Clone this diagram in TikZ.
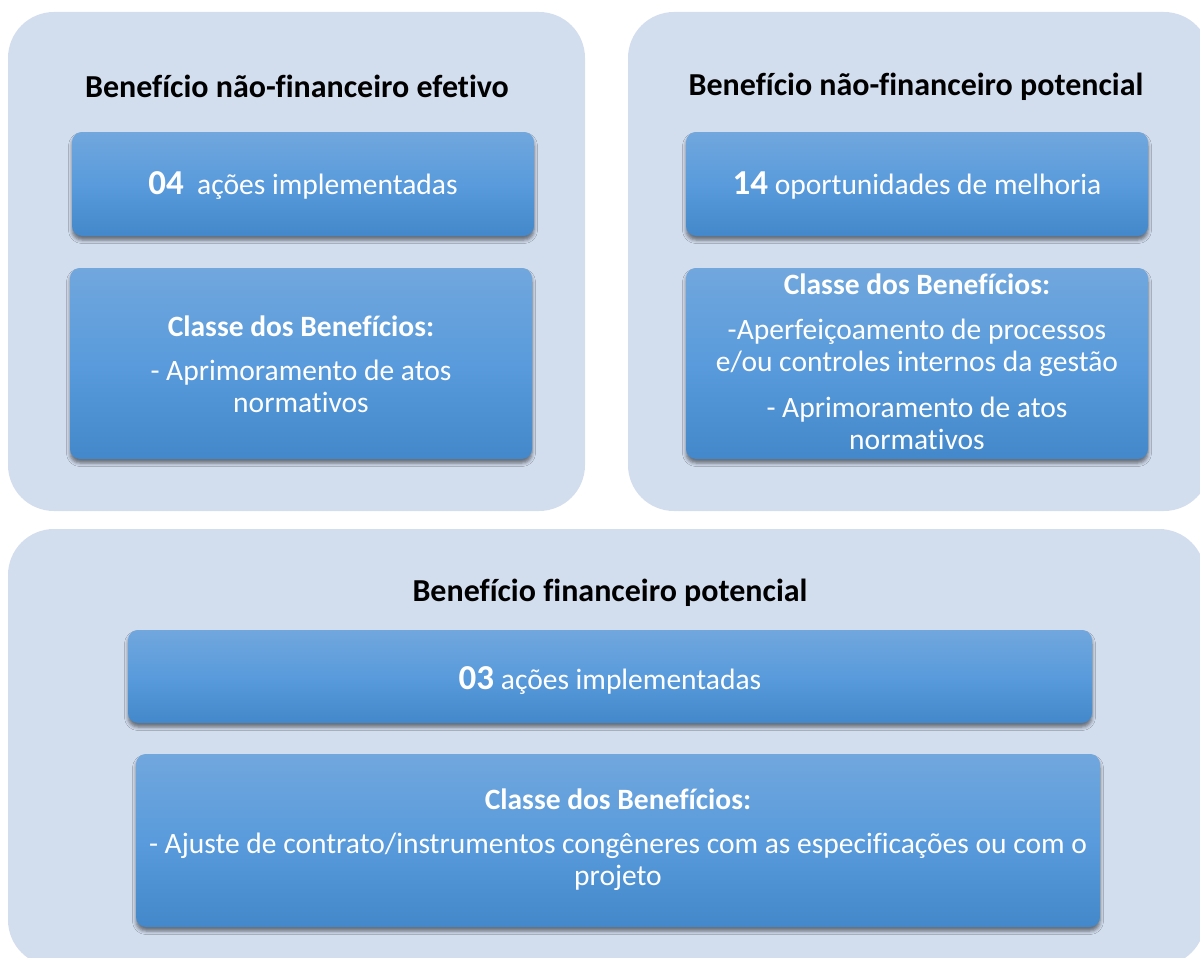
\documentclass[tikz,border=0pt]{standalone}
\usepackage{fontspec}
\setmainfont[Ligatures=NoCommon]{Carlito}
\usetikzlibrary{shadows.blur}
\definecolor{panelbg}{HTML}{D2DDEE}
\definecolor{boxtop}{HTML}{71A7DD}
\definecolor{boxmid}{HTML}{599BDC}
\definecolor{boxbot}{HTML}{4388CA}
\tikzset{
  panel/.style={fill=panelbg, rounded corners=46pt},
  bluebox/.style={rounded corners=10pt, top color=boxtop, bottom color=boxbot, middle color=boxmid,
    blur shadow={shadow xshift=0pt, shadow yshift=-4pt, shadow blur radius=3.5pt, shadow opacity=50}},
  title/.style={font=\bfseries\fontsize{32}{36}\selectfont, text=black},
  boxtext/.style={text=white, align=center, font=\fontsize{29.5}{32}\selectfont},
}
\newcommand{\bignum}[1]{{\bfseries\fontsize{35}{35}\selectfont #1}}
\begin{document}
\begin{tikzpicture}[x=1pt,y=-1pt]
\useasboundingbox (0,0) rectangle (1200,958);
\clip (0,0) rectangle (1200,958);
% panels
\path[panel] (8,12) rectangle (585,511);
\path[panel] (628,12) rectangle (1210,511);
\path[panel] (8,529) rectangle (1205,966);
% titles
\node[title] (t1) at (297,86) {Benefício não-financeiro efetivo};
\node[title] (t2) at (916,87) {Benefício não-financeiro potencial};
\node[title] (t3) at (610,593) {Benefício financeiro potencial};
% boxes
\path[bluebox] (72,132) rectangle (534,236);
\path[bluebox] (70,268) rectangle (532,459);
\path[bluebox] (686,132) rectangle (1148,236);
\path[bluebox] (686,268) rectangle (1148,459);
\path[bluebox] (128,630) rectangle (1092,723);
\path[bluebox] (136,754) rectangle (1100,927);
% texts
\node[boxtext] (a1) at (303,186) {\bignum{04}\ \ ações implementadas};
\node[boxtext] (b1) at (301,364) {\textbf{Classe dos Benefícios:}\\[12pt]- Aprimoramento de atos\\normativos};
\node[boxtext] (a2) at (917,186) {\bignum{14} oportunidades de melhoria};
\node[boxtext] (b2) at (917,362) {\textbf{Classe dos Benefícios:}\\[13pt]-Aperfeiçoamento de processos\\e/ou controles internos da gestão\\[14pt]- Aprimoramento de atos\\normativos};
\node[boxtext] (a3) at (610,680) {\bignum{03} ações implementadas};
\node[boxtext] (b3) at (618,840) {\textbf{Classe dos Benefícios:}\\[12pt]- Ajuste de contrato/instrumentos congêneres com as especificações ou com o\\projeto};
\end{tikzpicture}
\end{document}
